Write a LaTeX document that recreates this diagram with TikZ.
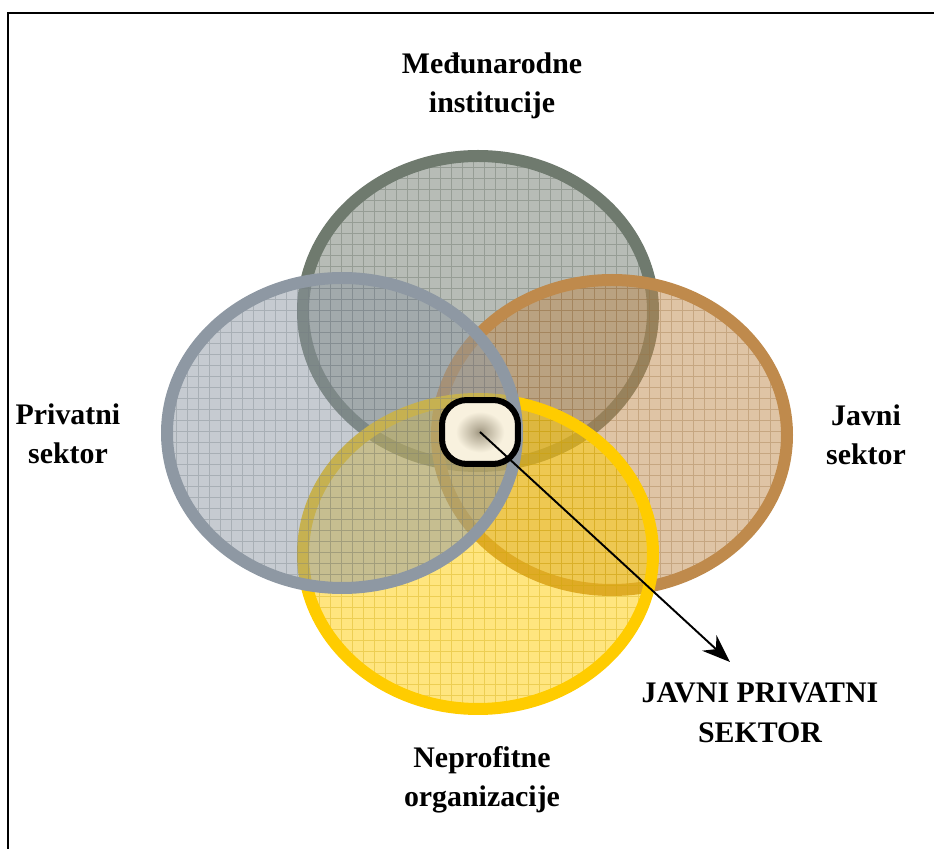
\documentclass[tikz,border=0pt]{standalone}
\usepackage{fontspec}
\setmainfont{Liberation Serif}
\usetikzlibrary{arrows.meta}

\definecolor{mgray}{HTML}{6F7A6E}
\definecolor{pgray}{HTML}{8E98A3}
\definecolor{jtan}{HTML}{BF8A4C}
\definecolor{nyellow}{HTML}{FFCC00}
\definecolor{corein}{HTML}{9E957F}
\definecolor{coreout}{HTML}{F8F1DE}
\pgfdeclareradialshading{corefade}{\pgfpoint{0bp}{0bp}}{color(0bp)=(corein); color(4bp)=(corein!70!coreout); color(16bp)=(coreout); color(50bp)=(coreout)}

\tikzset{
  lbl/.style={align=center, font=\fontsize{17}{22.5}\selectfont\bfseries},
  ringline/.style={line width=0.24cm},
}

\begin{document}
\begin{tikzpicture}[x=0.02cm, y=0.02cm]
    \useasboundingbox (0,0) rectangle (934,849);

    % Frame
    \draw[line width=1.3pt] (8,0) -- (8,836) -- (934,836);

    % Sectors
    \foreach \cx/\cy/\col in {478/538/mgray, 612/414/jtan, 478/295/nyellow, 342/416/pgray} {
        \begin{scope}
            \clip (\cx,\cy) ellipse [x radius=175, y radius=155];
            \fill[\col, opacity=.5] (\cx,\cy) ellipse [x radius=175, y radius=155];
            \draw[\col!80!black, opacity=.35, line width=.5pt, step=11] (\cx-180,\cy-160) grid (\cx+180,\cy+160);
        \end{scope}
        \draw[\col, ringline] (\cx,\cy) ellipse [x radius=175, y radius=155];
    }

    % Labels
    \node[lbl] (mi) at (492,763) {Međunarodne\\institucije};
    \node[lbl] (ps) at (68,415) {Privatni\\sektor};
    \node[lbl] (js) at (866,414) {Javni\\sektor};
    \node[lbl] (no) at (482,69) {Neprofitne\\organizacije};
    \node[lbl] (jps) at (760,136) {JAVNI PRIVATNI\\SEKTOR};

    % Core and arrow
    \node[draw, line width=0.12cm, rounded corners=0.5cm, minimum width=1.52cm, minimum height=1.28cm,
          shading=corefade] (core) at (480,417) {};
    \coordinate (tip) at (730,187);
    \draw[line width=1.1pt, -{Stealth[length=16pt, width=12pt]}] (core.center) -- (tip);
\end{tikzpicture}
\end{document}
